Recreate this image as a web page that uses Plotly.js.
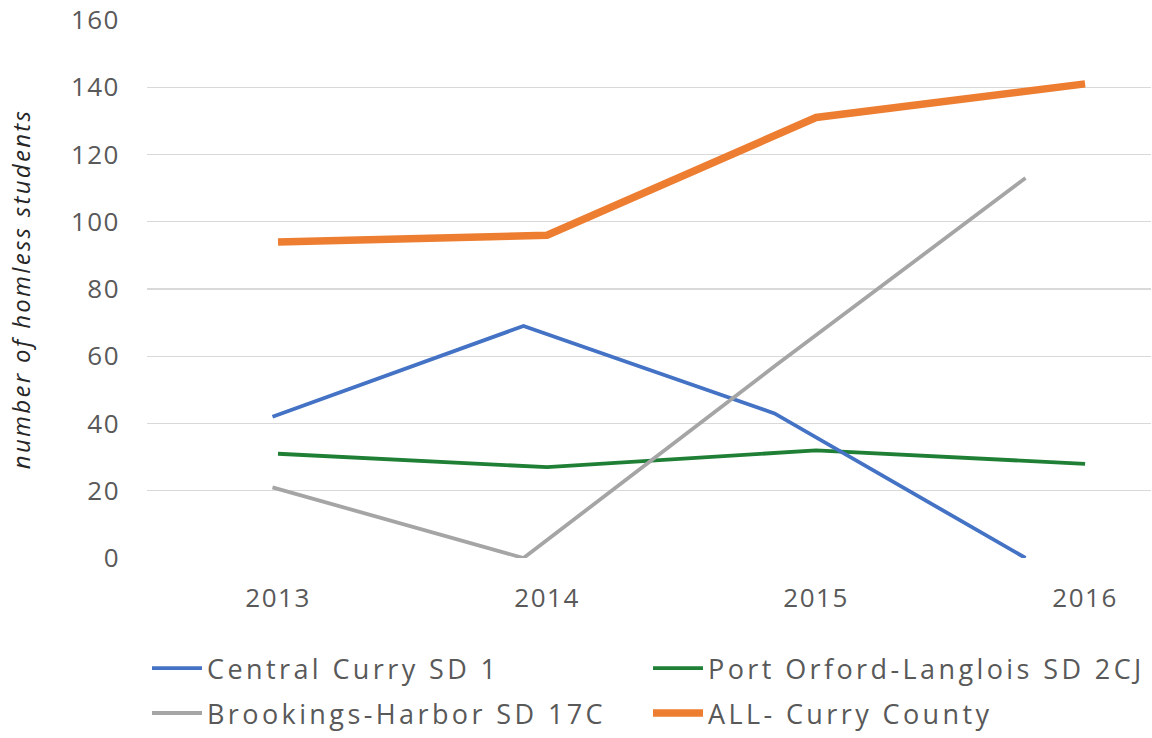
<!DOCTYPE html>
<html>
<head>
<meta charset="utf-8">
<script src="https://cdn.plot.ly/plotly-3.0.1.min.js"></script>
<style>
  html, body { margin: 0; padding: 0; background: #fff; }
  #chart { width: 1152px; height: 738px; }
  .xtick text, .ytick text { letter-spacing: 1.5px; }
  .legend text, .legend2 text, text.legendtext { letter-spacing: 3.4px; }
  .ytitle { letter-spacing: 2.3px; }
</style>
</head>
<body>
<div id="chart"></div>
<script>
const years = ['2013', '2014', '2015', '2016'];
const centralCurry = [42, 69, 43, 0];
const portOrford = [31, 27, 32, 28];
const brookingsHarbor = [21, 0, 57, 113];
const allCurry = [94, 96, 131, 141];
const seriesNames = ['Central Curry SD 1', 'Port Orford-Langlois SD 2CJ', 'Brookings-Harbor SD 17C', 'ALL- Curry County'];
const yTitle = 'number of homless students';

const traces = [
  { x: years, y: centralCurry, name: seriesNames[0], type: 'scatter', mode: 'lines',
    xaxis: 'x2', line: { color: '#4472C4', width: 3.8 }, legend: 'legend' },
  { x: years, y: portOrford, name: seriesNames[1], type: 'scatter', mode: 'lines',
    xaxis: 'x', line: { color: '#1E7F35', width: 3.8 }, legend: 'legend' },
  { x: years, y: brookingsHarbor, name: seriesNames[2], type: 'scatter', mode: 'lines',
    xaxis: 'x2', line: { color: '#A5A5A5', width: 3.8 }, legend: 'legend2' },
  { x: years, y: allCurry, name: seriesNames[3], type: 'scatter', mode: 'lines',
    xaxis: 'x', line: { color: '#ED7D31', width: 7.5 }, legend: 'legend2' }
];

const tickFont = { family: 'Open Sans, sans-serif', size: 26, color: '#595959' };
const legendFont = { family: 'Open Sans, sans-serif', size: 27, color: '#595959' };

const layout = {
  width: 1152, height: 738,
  margin: { l: 147, r: 1, t: 20, b: 179 },
  paper_bgcolor: '#ffffff', plot_bgcolor: '#ffffff',
  showlegend: true,
  xaxis: {
    type: 'category', range: [-0.487, 3.245],
    showgrid: false, zeroline: false, showline: false, ticks: '',
    tickfont: tickFont, ticklabelstandoff: 22, fixedrange: true
  },
  xaxis2: {
    type: 'category', range: [-0.5, 3.5], overlaying: 'x',
    visible: false, fixedrange: true
  },
  yaxis: {
    range: [0, 160], dtick: 20, showgrid: true, gridcolor: '#D9D9D9', gridwidth: 1.3,
    zeroline: false, showline: false, ticks: '',
    tickfont: tickFont, ticklabelstandoff: 26,
    title: { text: yTitle, font: { family: 'Open Sans, sans-serif', size: 24, color: '#262626', style: 'italic' }, standoff: 33 },
    fixedrange: true
  },
  legend: {
    orientation: 'h', x: 0.0, xanchor: 'left', y: -0.158, yanchor: 'top',
    entrywidth: 436, entrywidthmode: 'pixels', itemwidth: 50,
    font: legendFont, bgcolor: 'rgba(0,0,0,0)'
  },
  legend2: {
    orientation: 'h', x: 0.0, xanchor: 'left', y: -0.332, yanchor: 'bottom',
    entrywidth: 436, entrywidthmode: 'pixels', itemwidth: 50,
    font: legendFont, bgcolor: 'rgba(0,0,0,0)'
  }
};

Plotly.newPlot('chart', traces, layout, { displayModeBar: false, staticPlot: true });
</script>
</body>
</html>
